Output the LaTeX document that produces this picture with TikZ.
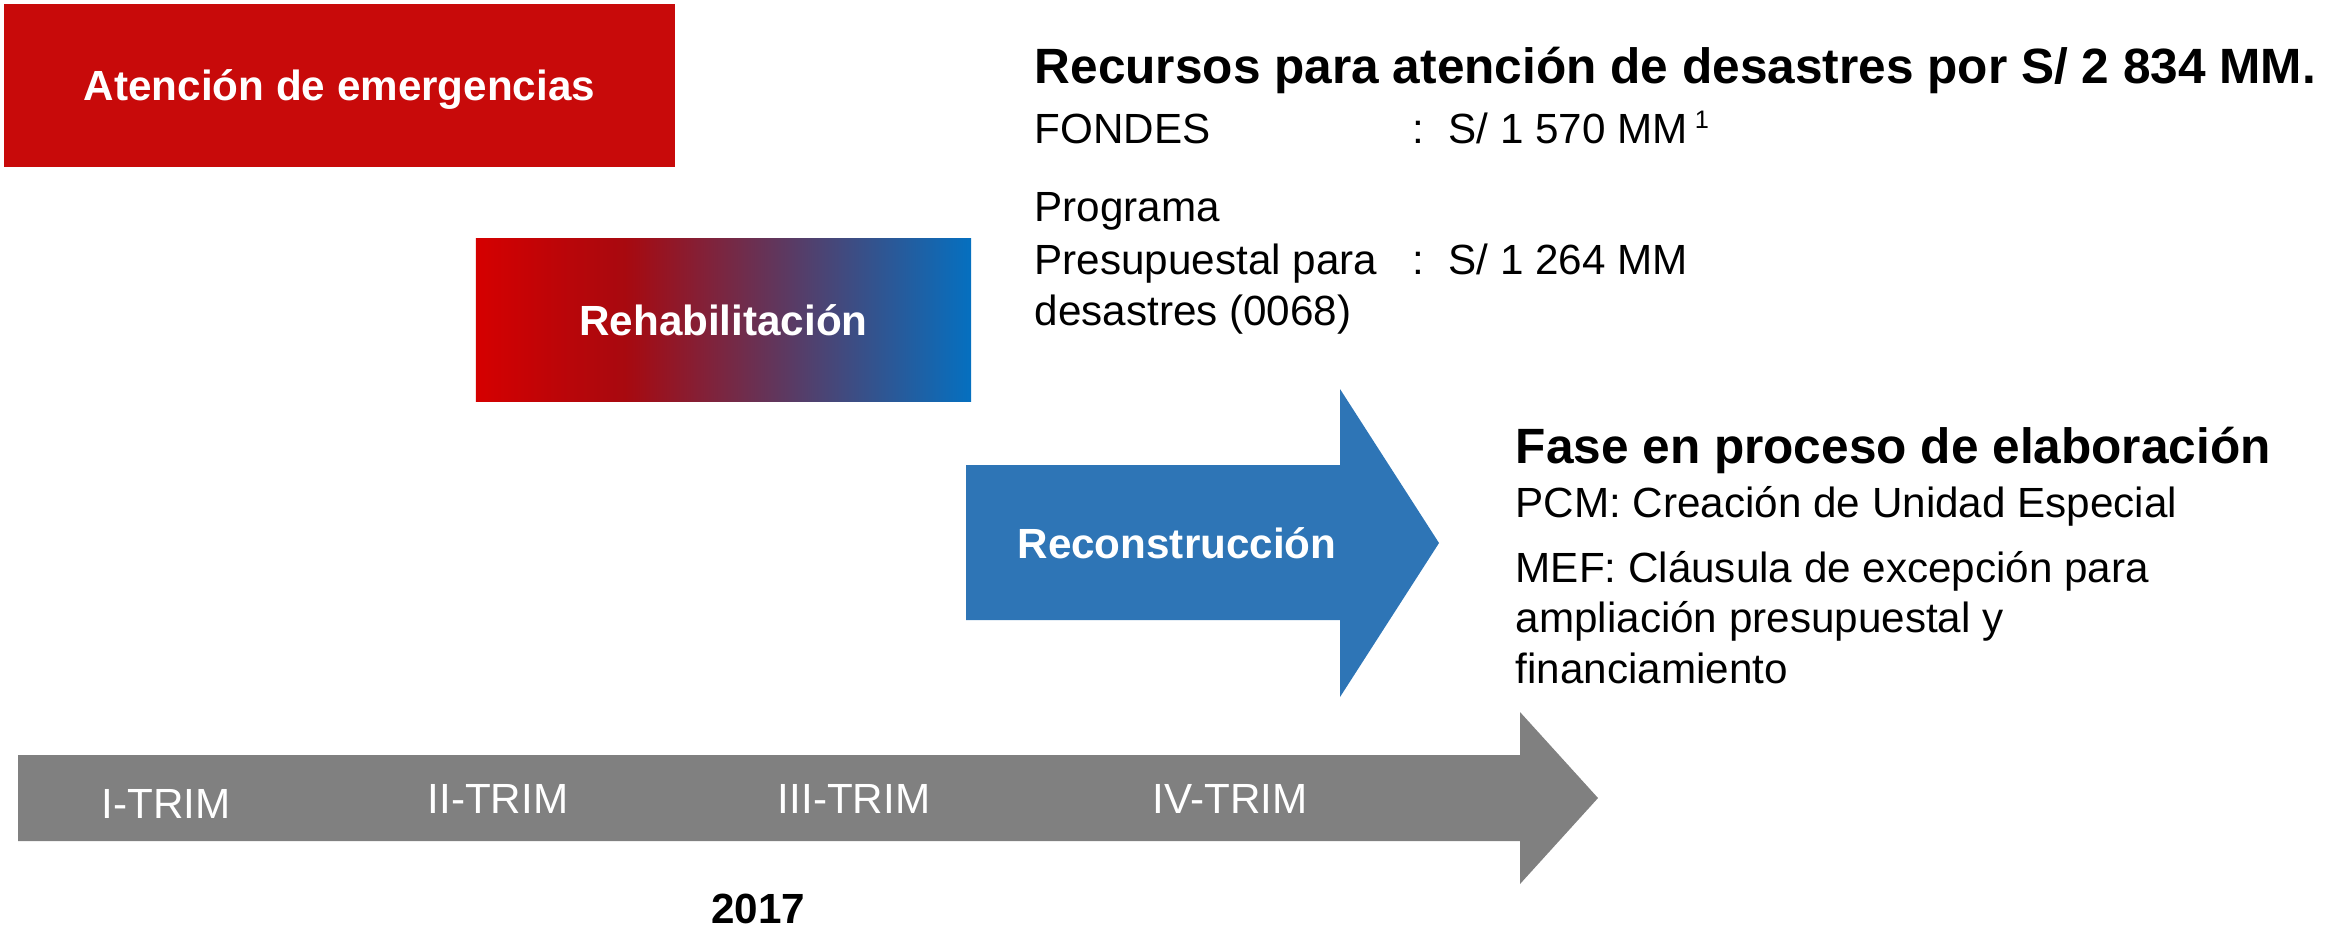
\documentclass[tikz,border=0pt]{standalone}
\usepackage{fontspec}
\setmainfont{Liberation Sans}
\usepackage{tikz}

\definecolor{emergred}{HTML}{C80A0A}
\definecolor{rehabred}{HTML}{D50000}
\definecolor{rehabdark}{HTML}{A8090F}
\definecolor{rehabblue}{HTML}{0570C0}
\definecolor{reconblue}{HTML}{2E75B6}
\definecolor{timegray}{HTML}{808080}
\pgfdeclarehorizontalshading{rehabshade}{100bp}{color(0bp)=(rehabred); color(25bp)=(rehabred); color(40bp)=(rehabdark); color(75bp)=(rehabblue); color(100bp)=(rehabblue)}

\begin{document}
\begin{tikzpicture}[x=0.01cm, y=-0.01cm,
    every node/.style={inner sep=0pt, font=\fontsize{12}{14.4}\selectfont},
    phasebox/.style={text=white, text height=0.30cm, text depth=0cm, font=\fontsize{12}{14.4}\selectfont\bfseries},
    trim/.style={text=white, text height=0.30cm, text depth=0cm},
    heading/.style={anchor=base west, font=\fontsize{14.1}{17}\selectfont\bfseries},
    plain/.style={anchor=base west}]
    \useasboundingbox (0,0) rectangle (2346,929);

    % phases
    \node[phasebox, fill=emergred, minimum width=6.71cm, minimum height=1.63cm] (emerg) at (339.5,85.5) {Atención de emergencias};
    \node[phasebox, shading=rehabshade, minimum width=4.95cm, minimum height=1.62cm] (rehab) at (723.5,320) {Rehabilitación};
    \fill[reconblue] (966,465) -- (1340,465) -- (1340,389) -- (1439,543) -- (1340,697) -- (1340,620) -- (966,620) -- cycle;
    \node[phasebox] (recon) at (1177,543) {Reconstrucción};

    % timeline
    \fill[timegray] (18,755) -- (1520,755) -- (1520,712) -- (1598,798) -- (1520,884) -- (1520,841) -- (18,841) -- cycle;
    \foreach \x/\y/\lab/\name in {166/803/I/trimI, 498/798/II/trimII, 854/798/III/trimIII, 1230/798/IV/trimIV}
        \node[trim] (\name) at (\x,\y) {\lab-TRIM};
    \node[anchor=base, font=\fontsize{12}{14.4}\selectfont\bfseries] (year) at (758,923) {2017};

    % resources
    \node[heading] (recursos) at (1034,83) {Recursos para atención de desastres por S/ 2 834 MM.};
    \node[plain] (fondes) at (1034,143) {FONDES};
    \node[plain] (fondescol) at (1412,143) {:};
    \node[plain] (fondesval) at (1448,143) {S/ 1 570 MM\,\raisebox{4pt}{\fontsize{7.2}{8}\selectfont 1}};
    \node[plain] (prog1) at (1034,221) {Programa};
    \node[plain] (prog2) at (1034,274) {Presupuestal para};
    \node[plain] (prog3) at (1034,325) {desastres (0068)};
    \node[plain] (progcol) at (1412,274) {:};
    \node[plain] (progval) at (1448,274) {S/ 1 264 MM};

    % reconstruction phase
    \node[heading] (fase) at (1515,463) {Fase en proceso de elaboración};
    \node[plain] (pcm) at (1515,517) {PCM: Creación de Unidad Especial};
    \node[plain] (mef1) at (1515,582) {MEF: Cláusula de excepción para};
    \node[plain] (mef2) at (1515,632) {ampliación presupuestal y};
    \node[plain] (mef3) at (1515,683) {financiamiento};
\end{tikzpicture}
\end{document}
